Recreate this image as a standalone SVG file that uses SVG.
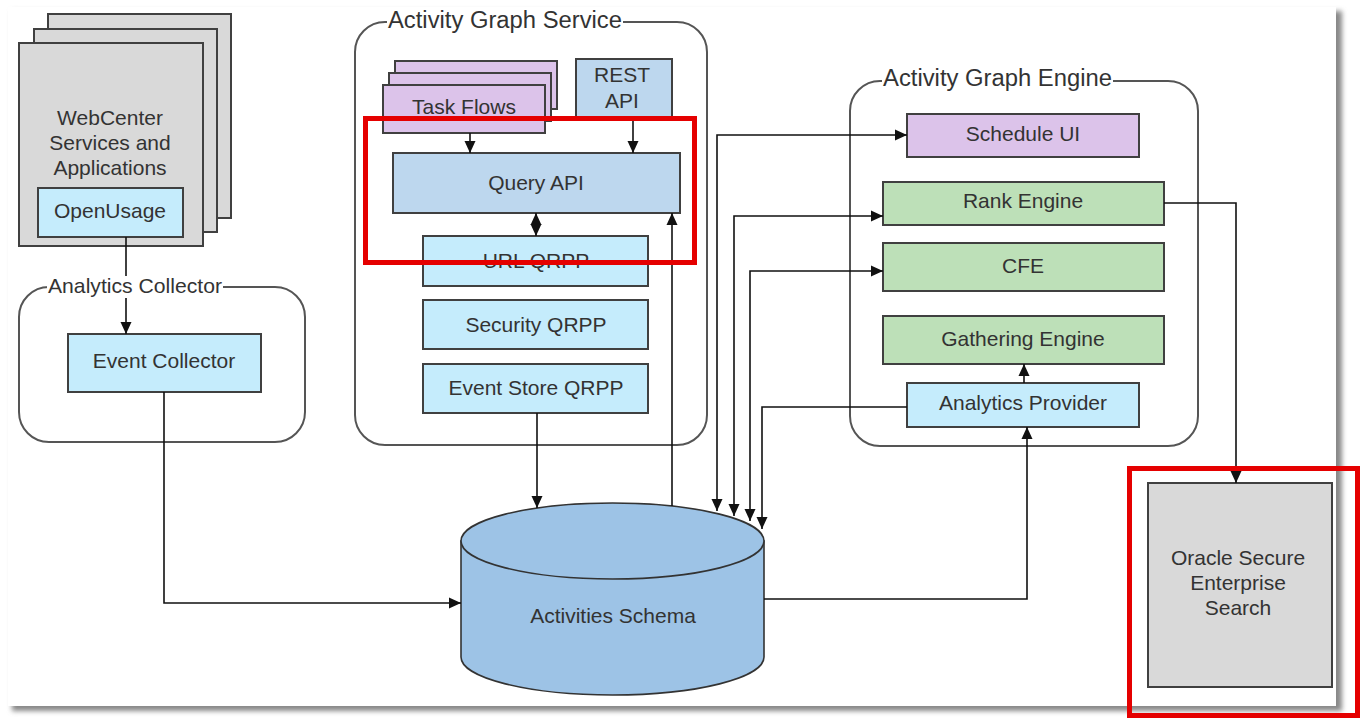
<svg xmlns="http://www.w3.org/2000/svg" width="1362" height="718" viewBox="0 0 1362 718">
<defs>
<style>
text{font-family:"Liberation Sans",Arial,sans-serif;font-size:21px;fill:#333;text-anchor:middle}
.title{text-anchor:start}
.big{font-size:23px}
.box{stroke:#404040;stroke-width:2}
.grey{fill:#d9d9d9}
.cyan{fill:#c5ecfc}
.blue{fill:#bdd7ee}
.lilac{fill:#dcc3ea}
.green{fill:#bde0b8}
.grp{fill:none;stroke:#555;stroke-width:2}
.con{fill:none;stroke:#111;stroke-width:1.6}
.red{fill:none;stroke:#e50000;stroke-width:5}
</style>
<marker id="arr" viewBox="0 0 12 12" refX="12" refY="6" markerWidth="12" markerHeight="12" markerUnits="userSpaceOnUse" orient="auto-start-reverse">
<path d="M0,0.5 L12,6 L0,11.5 Z" fill="#111"/>
</marker>
<filter id="sh" x="-5%" y="-5%" width="110%" height="110%">
<feGaussianBlur stdDeviation="2.5"/>
</filter>
</defs>
<rect width="1362" height="718" fill="#fff"/>
<rect x="12" y="11" width="1330" height="700" fill="#888" filter="url(#sh)"/>
<rect x="8" y="7" width="1328" height="699" fill="#fff"/>

<g id="analytics-collector"><rect class="grp" x="19" y="287" width="286" height="155" rx="30"/></g>
<g id="activity-graph-service"><rect class="grp" x="355" y="22" width="352" height="423" rx="30"/></g>
<g id="activity-graph-engine"><rect class="grp" x="850" y="81" width="348" height="365" rx="30"/></g>

<g id="webcenter">
<rect class="box grey" x="48" y="14" width="183" height="204"/>
<rect class="box grey" x="34" y="29" width="183" height="203"/>
<rect class="box grey" x="19" y="43" width="184" height="203"/>
<text x="110" y="125">WebCenter</text>
<text x="110" y="150">Services and</text>
<text x="110" y="175">Applications</text>
</g>
<g id="openusage"><rect class="box cyan" x="38" y="188" width="145" height="49"/><text x="110" y="218">OpenUsage</text></g>
<g id="event-collector"><rect class="box cyan" x="68" y="334" width="193" height="58"/><text x="164" y="368">Event Collector</text></g>

<g id="task-flows">
<rect class="box lilac" x="395" y="61" width="162" height="48"/>
<rect class="box lilac" x="389" y="73" width="162" height="48"/>
<rect class="box lilac" x="383" y="85" width="162" height="48"/>
<text x="464" y="114">Task Flows</text>
</g>
<g id="rest-api"><rect class="box blue" x="576" y="59" width="96" height="60"/><text x="622" y="82">REST</text><text x="622" y="108">API</text></g>
<g id="query-api"><rect class="box blue" x="393" y="153" width="287" height="60"/><text x="536" y="190">Query API</text></g>
<g id="url-qrpp"><rect class="box cyan" x="423" y="236" width="225" height="50"/><text x="536" y="268">URL QRPP</text></g>
<g id="security-qrpp"><rect class="box cyan" x="423" y="300" width="225" height="49"/><text x="536" y="332">Security QRPP</text></g>
<g id="event-store-qrpp"><rect class="box cyan" x="423" y="364" width="225" height="49"/><text x="536" y="395">Event Store QRPP</text></g>

<g id="schedule-ui"><rect class="box lilac" x="907" y="114" width="232" height="43"/><text x="1023" y="141">Schedule UI</text></g>
<g id="rank-engine"><rect class="box green" x="883" y="182" width="281" height="43"/><text x="1023" y="208">Rank Engine</text></g>
<g id="cfe"><rect class="box green" x="883" y="243" width="281" height="48"/><text x="1023" y="273">CFE</text></g>
<g id="gathering-engine"><rect class="box green" x="883" y="316" width="281" height="48"/><text x="1023" y="346">Gathering Engine</text></g>
<g id="analytics-provider"><rect class="box cyan" x="907" y="383" width="232" height="44"/><text x="1023" y="410">Analytics Provider</text></g>

<g id="activities-schema">
<path d="M461,541 L461,657 A151.5,38 0 0 0 764,657 L764,541 Z" fill="#9dc3e6" stroke="#333" stroke-width="1.6"/>
<ellipse cx="612.5" cy="541" rx="151.5" ry="38" fill="#9dc3e6" stroke="#333" stroke-width="1.6"/>
<text x="613" y="623">Activities Schema</text>
</g>

<g id="oracle-ses"><rect class="box grey" x="1148" y="483" width="184" height="204"/><text x="1238" y="565">Oracle Secure</text><text x="1238" y="590">Enterprise</text><text x="1238" y="615">Search</text></g>

<g id="connectors">
<path class="con" d="M126,237 V334" marker-end="url(#arr)"/>
<path class="con" d="M164,392 V603 H461" marker-end="url(#arr)"/>
<path class="con" d="M470,133 V153" marker-end="url(#arr)"/>
<path class="con" d="M633,119 V153" marker-end="url(#arr)"/>
<path class="con" d="M536,213 V236" marker-start="url(#arr)" marker-end="url(#arr)"/>
<path class="con" d="M537,413 V508" marker-end="url(#arr)"/>
<path class="con" d="M672,506 V213" marker-end="url(#arr)"/>
<path class="con" d="M907,135 H717 V511" marker-start="url(#arr)" marker-end="url(#arr)"/>
<path class="con" d="M883,216 H734 V516" marker-start="url(#arr)" marker-end="url(#arr)"/>
<path class="con" d="M883,271 H750 V521" marker-start="url(#arr)" marker-end="url(#arr)"/>
<path class="con" d="M907,407 H762 V529" marker-end="url(#arr)"/>
<path class="con" d="M764,599 H1027 V427" marker-end="url(#arr)"/>
<path class="con" d="M1024,383 V364" marker-end="url(#arr)"/>
<path class="con" d="M1164,203 H1236 V483" marker-end="url(#arr)"/>
</g>

<g id="group-titles">
<rect x="47" y="276" width="176" height="22" fill="#fff"/>
<text class="title" x="48" y="293" textLength="174" lengthAdjust="spacingAndGlyphs">Analytics Collector</text>
<rect x="387" y="10" width="236" height="24" fill="#fff"/>
<text class="title big" x="388" y="28" textLength="234" lengthAdjust="spacingAndGlyphs">Activity Graph Service</text>
<rect x="882" y="69" width="231" height="24" fill="#fff"/>
<text class="title big" x="883" y="86" textLength="229" lengthAdjust="spacingAndGlyphs">Activity Graph Engine</text>
</g>

<g id="highlights">
<rect class="red" x="365.5" y="118.5" width="329" height="144"/>
<rect class="red" x="1129.5" y="468.5" width="228" height="247"/>
</g>
</svg>
